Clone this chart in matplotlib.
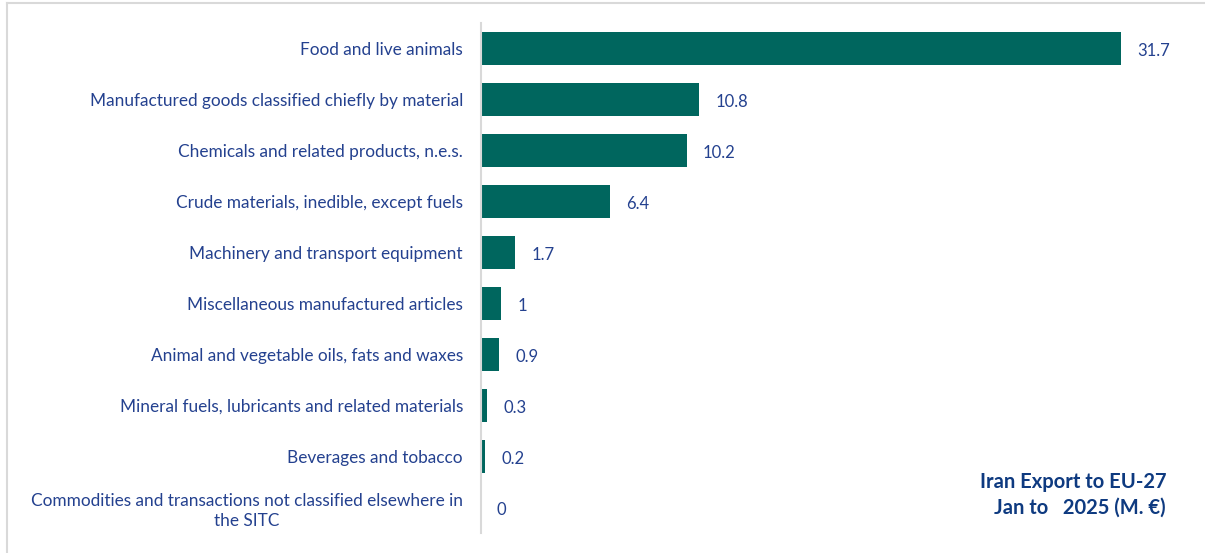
import matplotlib
matplotlib.use("Agg")
import matplotlib.pyplot as plt
from matplotlib.lines import Line2D

categories = [
    "Food and live animals",
    "Manufactured goods classified chiefly by material",
    "Chemicals and related products, n.e.s.",
    "Crude materials, inedible, except fuels",
    "Machinery and transport equipment",
    "Miscellaneous manufactured articles",
    "Animal and vegetable oils, fats and waxes",
    "Mineral fuels, lubricants and related materials",
    "Beverages and tobacco",
    "Commodities and transactions not classified elsewhere in\nthe SITC",
]
values = [31.7, 10.8, 10.2, 6.4, 1.7, 1, 0.9, 0.3, 0.2, 0]
value_labels = ["31.7", "10.8", "10.2", "6.4", "1.7", "1", "0.9", "0.3", "0.2", "0"]
title_lines = "Iran Export to EU-27\nJan to   2025 (M. \u20ac)"

W, H = 1205, 553
plt.rcParams['font.family'] = ['Lato', 'DejaVu Sans']
fig = plt.figure(figsize=(W / 100, H / 100), dpi=100)

ax_left = 481 / W
ax_top = 23 / H
ax_bottom = 533 / H
ax = fig.add_axes([ax_left, 1 - ax_bottom, (1188 - 481) / W, (ax_bottom - ax_top)])

label_color = '#24418F'
bar_color = '#00665E'

ypos = list(range(len(categories)))
ax.barh(ypos, values, height=0.65, color=bar_color)
ax.set_ylim(len(categories) - 0.5, -0.5)
ax.set_xlim(0, 35)
ax.set_yticks(ypos)
ax.set_yticklabels(categories, color=label_color, fontsize=12.4)
for lab in ax.get_yticklabels():
    lab.set_horizontalalignment('right')
    lab.set_multialignment('center')
    lab.set_linespacing(1.3)
ax.tick_params(axis='y', length=0, pad=13)
ax.set_xticks([])
for s in ['top', 'right', 'bottom']:
    ax.spines[s].set_visible(False)
ax.spines['left'].set_color('#D9D9D9')
ax.spines['left'].set_linewidth(1.5)

for y, v, t in zip(ypos, values, value_labels):
    ax.annotate(t, xy=(v, y), xytext=(11.5, -2), textcoords='offset points',
                va='center', ha='left', color=label_color, fontsize=12)

fig.text(1166 / W, 1 - 495 / H, title_lines, ha='right', va='center',
         fontsize=14.5, fontweight='bold', color='#0E3A80', multialignment='right', linespacing=1.35)

# figure frame lines (top and left)
fig.add_artist(Line2D([7 / W, 1], [1 - 3 / H, 1 - 3 / H], color='#D9D9D9', lw=1.5, transform=fig.transFigure))
fig.add_artist(Line2D([7 / W, 7 / W], [0, 1 - 3 / H], color='#D9D9D9', lw=1.5, transform=fig.transFigure))

fig.savefig("out.png", dpi=100)
